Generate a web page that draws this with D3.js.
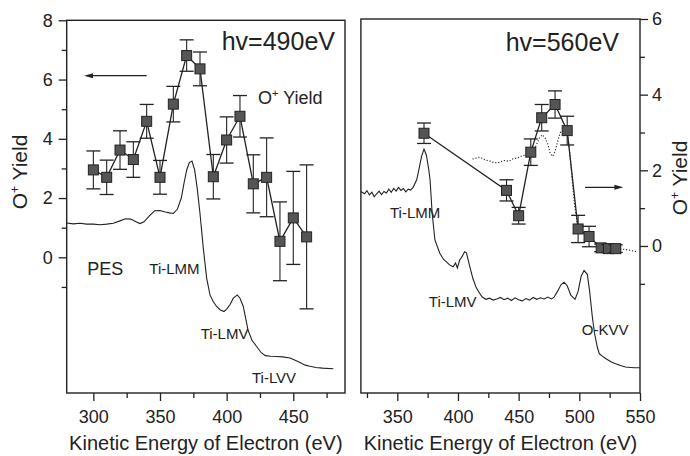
<!DOCTYPE html>
<html>
<head>
<meta charset="utf-8">
<script src="https://cdn.jsdelivr.net/npm/d3@7"></script>
<style>
  body { margin: 0; background: #fff; }
  svg { font-family: "Liberation Sans", Arial, sans-serif; }
  .axis text { fill: #222; }
  .axis line { stroke: #222; }
</style>
</head>
<body>
<svg width="690" height="456"></svg>
<script>
// left panel, hv=490eV : O+ yield
var leftEnergy = [300, 310, 320, 330, 340, 350, 360, 370, 380, 390, 400, 410, 420, 430, 440, 450, 460];
var leftYield = [2.95, 2.70, 3.62, 3.30, 4.59, 2.70, 5.17, 6.81, 6.36, 2.72, 3.96, 4.76, 2.48, 2.70, 0.54, 1.33, 0.69];
var leftErr = [0.64, 0.58, 0.65, 0.60, 0.57, 0.57, 0.60, 0.53, 0.57, 0.75, 0.78, 0.70, 0.98, 1.33, 1.33, 1.57, 2.43];

// left panel PES curve [energy, value on left axis]
var leftPES = [[280, 1.16], [285, 1.13], [290, 1.15], [295, 1.12], [300, 1.12], [305, 1.10], [310, 1.12],
    [315, 1.15], [320, 1.23], [324, 1.30], [328, 1.29], [332, 1.20], [335, 1.14], [338, 1.20], [342, 1.40],
    [346, 1.57], [350, 1.58], [354, 1.53], [357, 1.50], [360, 1.48], [363, 1.62], [366, 2.00], [368, 2.50],
    [370, 2.94], [372, 3.20], [374, 3.25], [376, 2.95], [378, 2.30], [380, 1.48], [382.5, 0.30], [385, -0.70],
    [387.5, -1.27], [390, -1.50], [392.5, -1.66], [395, -1.77], [398, -1.83], [400, -1.75], [402.5, -1.60],
    [405, -1.38], [408, -1.27], [410, -1.38], [412.5, -1.66], [416, -2.45], [419, -2.80], [422.5, -3.01],
    [426, -3.22], [429, -3.32], [433, -3.34], [437.5, -3.35], [442, -3.36], [447.5, -3.40], [451, -3.47],
    [455, -3.55], [459, -3.64], [462.5, -3.68], [467, -3.72], [472, -3.74], [480, -3.76]];

// right panel, hv=560eV : O+ yield
var rightEnergy = [372, 440, 450, 460, 469, 480, 490, 499, 508, 518, 524, 530];
var rightYield = [2.98, 1.47, 0.80, 2.48, 3.39, 3.74, 3.05, 0.45, 0.25, -0.05, -0.07, -0.07];
var rightErr = [0.27, 0.28, 0.22, 0.35, 0.35, 0.36, 0.38, 0.36, 0.27, 0.10, 0.10, 0.10];

// dotted comparison curve (right axis)
var rightDotted = [[412, 2.30], [418, 2.35], [422, 2.28], [426, 2.25], [430, 2.20], [434, 2.21], [438, 2.26],
    [442, 2.24], [445, 2.30], [449, 2.33], [452, 2.37], [456, 2.42], [460, 2.50], [464, 2.63], [467, 2.85],
    [469.5, 2.94], [472, 2.85], [474, 2.70], [476, 2.45], [478, 2.37], [480, 2.50], [482.5, 2.81],
    [484.7, 3.03], [487, 3.05], [490, 3.05], [492, 2.50], [494, 1.80], [496, 1.10], [499, 0.45], [508, 0.25],
    [518, -0.05], [530, -0.07], [540, -0.10], [547, -0.15]];

// right panel PES curve (right axis units)
var rightPES = [[320, 1.44], [323, 1.38], [325, 1.46], [327, 1.35], [329, 1.42], [331, 1.30], [333, 1.38],
    [335, 1.45], [337, 1.36], [339, 1.44], [341, 1.40], [343, 1.50], [345, 1.42], [347, 1.52], [349, 1.45],
    [351, 1.55], [353, 1.47], [355, 1.52], [357, 1.43], [359, 1.50], [361, 1.48], [363, 1.55], [366, 1.75],
    [368, 2.05], [370, 2.37], [372, 2.56], [374, 2.40], [376, 2.00], [377, 1.75], [378.7, 0.87], [381, 0.16],
    [385, -0.19], [388, -0.35], [390.5, -0.42], [393, -0.50], [396, -0.55], [398, -0.45], [399.5, -0.58],
    [401.4, -0.37], [403, -0.30], [405.5, -0.15], [407, -0.18], [409, -0.45], [412.3, -0.86], [415, -1.10],
    [417.8, -1.25], [420, -1.35], [423, -1.41], [426, -1.38], [429, -1.43], [432, -1.40], [435, -1.36],
    [438, -1.42], [441, -1.38], [444, -1.44], [447, -1.37], [450, -1.42], [453, -1.45], [456, -1.39],
    [459, -1.43], [462, -1.36], [465, -1.41], [468, -1.37], [471, -1.40], [474, -1.35], [477, -1.40],
    [479, -1.36], [482, -1.20], [485, -1.02], [487.5, -0.96], [490, -1.05], [493, -1.30], [496.5, -1.41],
    [499, -1.20], [501.5, -0.80], [503.9, -0.65], [506.6, -0.75], [508.5, -1.20], [510.7, -1.87],
    [512.5, -2.30], [514.8, -2.67], [516.5, -2.85], [518.9, -2.91], [522, -2.98], [526, -3.06],
    [529.8, -3.11], [534, -3.16], [538, -3.20], [542, -3.21], [546, -3.22], [550, -3.22]];

var leftXTicks = [300, 350, 400, 450];
var leftXMinor = [325, 375, 425, 475];
var leftYTicks = [0, 2, 4, 6, 8];
var leftYMinor = [-1, 1, 3, 5, 7];
var rightXTicks = [350, 400, 450, 500, 550];
var rightXMinor = [325, 375, 425, 475, 525];
var rightYTicks = [0, 2, 4, 6];
var rightYMinor = [-1, 1, 3, 5];

var ink = '#222';
var svg = d3.select('svg');

var xL = d3.scaleLinear().domain([280, 488.8]).range([66.7, 345]);
var yL = d3.scaleLinear().domain([-4.58, 8]).range([393, 20.3]);
var xR = d3.scaleLinear().domain([320, 550]).range([360.9, 640]);
var yR = d3.scaleLinear().domain([-3.886, 6]).range([393, 19]);

function frame(x, y) {
    svg.append('rect')
        .attr('x', x.range()[0]).attr('y', y.range()[1])
        .attr('width', x.range()[1] - x.range()[0])
        .attr('height', y.range()[0] - y.range()[1])
        .attr('fill', 'none').attr('stroke', ink).attr('stroke-width', 1.4);
}

function axis(gen, tx, ty, size, fmt, pad) {
    var g = svg.append('g').attr('class', 'axis')
        .attr('transform', 'translate(' + tx + ',' + ty + ')')
        .call(gen.tickSize(size).tickPadding(pad || 4).tickFormat(fmt));
    g.select('.domain').remove();
    g.selectAll('line').attr('stroke-width', 1.3);
    g.selectAll('text').style('font-size', '18px');
    return g;
}

function xTitle(x) {
    svg.append('text')
        .attr('x', (x.range()[0] + x.range()[1]) / 2).attr('y', 450)
        .attr('text-anchor', 'middle').attr('fill', ink)
        .style('font-size', '20px')
        .text('Kinetic Energy of Electron (eV)');
}

function yieldLabel(tx, ty) {
    var t = svg.append('text')
        .attr('transform', 'translate(' + tx + ',' + ty + ') rotate(-90)')
        .attr('text-anchor', 'middle').attr('fill', ink)
        .style('font-size', '21px');
    t.append('tspan').text('O');
    t.append('tspan').attr('dy', -8).style('font-size', '12px').text('+');
    t.append('tspan').attr('dy', 8).text(' Yield');
}

function label(x, y, txt, size, anchor) {
    svg.append('text').attr('x', x).attr('y', y)
        .attr('text-anchor', anchor || 'start').attr('fill', ink)
        .style('font-size', size + 'px').text(txt);
}

function curve(data, x, y, dash, w) {
    svg.append('path').datum(data)
        .attr('fill', 'none').attr('stroke', ink)
        .attr('stroke-width', w || 1.1)
        .attr('stroke-dasharray', dash || null)
        .attr('d', d3.line().x(function (d) { return x(d[0]); }).y(function (d) { return y(d[1]); }));
}

function yieldSeries(energy, vals, errs, x, y) {
    var pts = energy.map(function (e, i) { return { e: e, v: vals[i], s: errs[i] }; });
    curve(pts.map(function (d) { return [d.e, d.v]; }), x, y, null, 1.3);
    var g = svg.append('g');
    var bars = g.selectAll('g').data(pts).enter().append('g');
    bars.append('line')
        .attr('x1', function (d) { return x(d.e); }).attr('x2', function (d) { return x(d.e); })
        .attr('y1', function (d) { return y(d.v - d.s); }).attr('y2', function (d) { return y(d.v + d.s); })
        .attr('stroke', ink).attr('stroke-width', 1.1);
    [-1, 1].forEach(function (sgn) {
        bars.append('line')
            .attr('x1', function (d) { return x(d.e) - 7; }).attr('x2', function (d) { return x(d.e) + 7; })
            .attr('y1', function (d) { return y(d.v + sgn * d.s); }).attr('y2', function (d) { return y(d.v + sgn * d.s); })
            .attr('stroke', ink).attr('stroke-width', 1.3);
    });
    bars.append('rect')
        .attr('x', function (d) { return x(d.e) - 5; }).attr('y', function (d) { return y(d.v) - 5; })
        .attr('width', 10).attr('height', 10)
        .attr('fill', '#555').attr('stroke', '#222').attr('stroke-width', 1);
}

function arrow(x1, x2, yv, xs, ys) {
    var dir = x2 > x1 ? 1 : -1;
    var px = xs(x2), py = ys(yv);
    svg.append('line')
        .attr('x1', xs(x1)).attr('x2', px - dir * 6).attr('y1', py).attr('y2', py)
        .attr('stroke', ink).attr('stroke-width', 1.3);
    svg.append('path')
        .attr('d', 'M' + px + ',' + py + 'L' + (px - dir * 9) + ',' + (py - 2.5) + 'L' + (px - dir * 9) + ',' + (py + 2.5) + 'Z')
        .attr('fill', ink);
}

// ---- left panel ----
curve(leftPES, xL, yL);
yieldSeries(leftEnergy, leftYield, leftErr, xL, yL);
frame(xL, yL);
axis(d3.axisBottom(xL).tickValues(leftXTicks), 0, 393, 8, d3.format('d'), 9);
axis(d3.axisBottom(xL).tickValues(leftXMinor), 0, 393, 5, '');
axis(d3.axisLeft(yL).tickValues(leftYTicks), 66.7, 0, 8, d3.format('d'), 6);
axis(d3.axisLeft(yL).tickValues(leftYMinor), 66.7, 0, 5, '');
xTitle(xL);
yieldLabel(27, 172);
label(335, 50, 'hv=490eV', 25, 'end');
arrow(340, 293, 6.13, xL, yL);
var oy = svg.append('text').attr('x', 258).attr('y', 104).attr('fill', ink).style('font-size', '18px');
oy.append('tspan').text('O');
oy.append('tspan').attr('dy', -7).style('font-size', '11px').text('+');
oy.append('tspan').attr('dy', 7).text(' Yield');
label(xL(295.5), yL(-0.6), 'PES', 18);
label(xL(342), yL(-0.55), 'Ti-LMM', 15);
label(xL(380.5), yL(-2.76), 'Ti-LMV', 15);
label(xL(419), yL(-4.23), 'Ti-LVV', 15);

// ---- right panel ----
curve(rightPES, xR, yR);
curve(rightDotted, xR, yR, '1.2,1.8', 1.1);
yieldSeries(rightEnergy, rightYield, rightErr, xR, yR);
frame(xR, yR);
axis(d3.axisBottom(xR).tickValues(rightXTicks), 0, 393, 8, d3.format('d'), 9);
axis(d3.axisBottom(xR).tickValues(rightXMinor), 0, 393, 5, '');
axis(d3.axisRight(yR).tickValues(rightYTicks), 640, 0, 8, d3.format('d'), 4);
axis(d3.axisRight(yR).tickValues(rightYMinor), 640, 0, 5, '');
xTitle(xR);
yieldLabel(687, 178);
label(619, 51, 'hv=560eV', 25, 'end');
arrow(504.7, 536.3, 1.55, xR, yR);
label(xR(344), yR(0.75), 'Ti-LMM', 15);
label(xR(376), yR(-1.6), 'Ti-LMV', 15);
label(xR(502), yR(-2.35), 'O-KVV', 15);
</script>
</body>
</html>
